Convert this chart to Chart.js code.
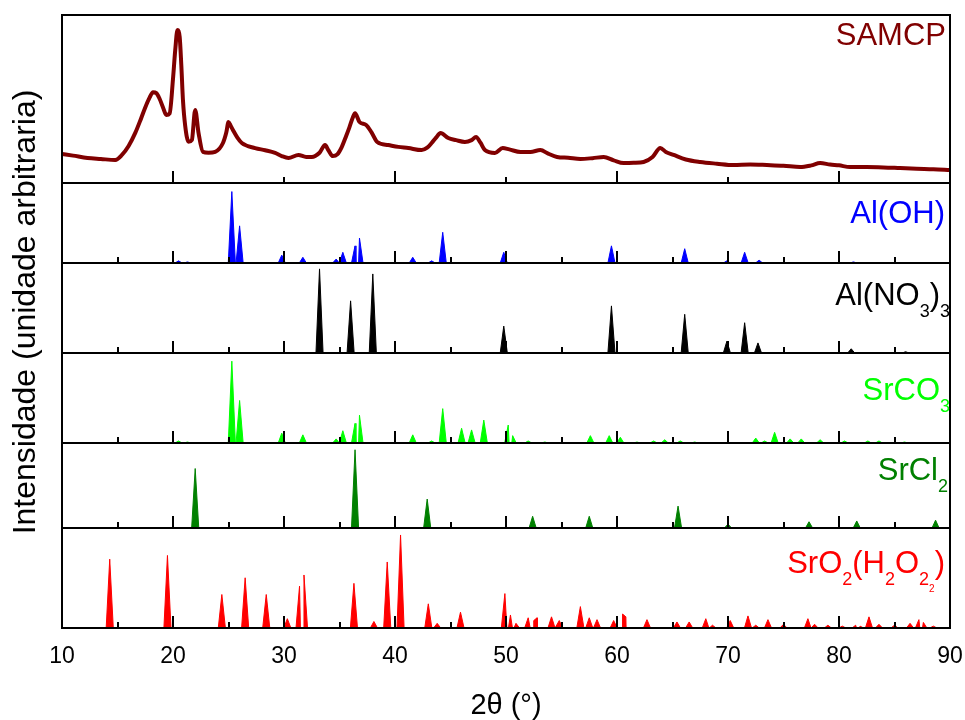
<!DOCTYPE html>
<html lang="pt">
<head>
    <meta charset="UTF-8">
    <title>DRX - SAMCP</title>
    <style>
        body {
            margin: 0;
            background-color: #ffffff;
        }
        #xrd {
            display: block;
        }
    </style>
</head>
<body>
    <canvas id="xrd" width="965" height="720"></canvas>

    <script src="https://cdn.jsdelivr.net/npm/chart.js"></script>
    <script>
        // SAMCP measured pattern (2theta, intensity a.u.)
        var samcpTheta = [10.0, 11.0, 12.3, 13.5, 14.8, 15.4, 16.0, 16.6, 17.1, 17.5, 17.9, 18.2, 18.5, 18.8, 19.1, 19.4, 19.7, 20.0, 20.2, 20.4, 20.6, 20.75, 20.9, 21.1, 21.4, 21.7, 22.0, 22.3, 22.7, 23.2, 23.8, 24.5, 24.8, 25.0, 25.2, 25.4, 25.8, 26.2, 27.4, 28.3, 29.2, 29.8, 30.4, 31.3, 32.0, 32.5, 33.2, 33.7, 34.0, 34.4, 34.8, 35.2, 35.6, 35.9, 36.2, 36.4, 36.8, 37.4, 37.9, 38.4, 39.4, 40.3, 41.2, 42.4, 42.9, 43.3, 43.7, 44.1, 44.8, 45.5, 46.3, 46.9, 47.3, 47.7, 48.1, 49.0, 49.7, 50.3, 51.3, 52.2, 53.1, 53.8, 54.6, 55.6, 56.7, 57.8, 58.8, 59.7, 60.6, 61.5, 62.4, 63.2, 63.9, 64.4, 65.1, 66.2, 67.5, 69.0, 70.5, 72.0, 73.5, 75.0, 76.5, 77.5, 78.3, 79.2, 80.0, 81.0, 82.5, 84.0, 85.5, 87.0, 88.5, 90.0];
        var samcpInt = [17.3, 16.3, 14.9, 14.3, 13.7, 16.7, 22, 29.8, 38, 45, 51, 54, 53.5, 50, 45, 40.5, 41.5, 62, 79, 91, 87, 70, 49, 34, 24.5, 25.6, 43.5, 29.8, 18.5, 18, 18.5, 23.8, 30, 36.3, 34, 31.5, 27, 23.8, 20.8, 19.5, 17.9, 16, 14.9, 16.7, 15.5, 15.5, 18, 22.6, 19.5, 16, 17, 21.4, 28, 33.3, 39, 41.5, 36.3, 34.5, 30, 24.4, 22.6, 21.5, 20.8, 19.6, 21, 23.8, 27, 29.8, 26.8, 25.5, 24.4, 25.5, 27.4, 24, 19.6, 17.9, 20.8, 20, 18.5, 18.5, 19.6, 17.5, 15.5, 15, 14.3, 14.8, 15.5, 13.5, 11.9, 12, 12.5, 15.5, 20.8, 18.5, 16.7, 14, 12.5, 11.5, 10.7, 11, 10.7, 10.3, 9.5, 10.5, 11.9, 11, 10.5, 9.5, 9.5, 9.3, 8.9, 8.5, 8.2, 7.7];

        // reference patterns: peak positions (2theta) and relative intensities
        var alohPos = [20.5, 21.3, 25.3, 26.0, 29.8, 31.7, 34.7, 35.3, 36.4, 36.8, 41.6, 43.3, 44.3, 49.8, 59.5, 66.1, 69.9, 71.5, 72.8, 81.3];
        var alohInt = [3, 1.5, 100, 52, 11, 8, 5.5, 15, 24, 35, 8, 3, 43, 15, 24, 20, 3, 15, 4, 1.5];

        var alno3Pos = [33.2, 36.0, 38.0, 49.8, 59.5, 66.1, 69.9, 71.5, 72.7, 81.1, 86.0];
        var alno3Int = [100, 62, 94, 32, 56, 46, 14, 36, 12, 5, 1.5];

        var srco3Pos = [20.5, 21.3, 25.3, 26.0, 29.8, 31.7, 34.7, 35.3, 36.4, 36.8, 41.6, 43.3, 44.3, 46.0, 46.9, 48.0, 50.2, 50.6, 52.0, 53.5, 57.6, 59.3, 60.3, 61.8, 63.3, 64.3, 65.7, 67.0, 72.5, 73.3, 74.2, 75.6, 76.6, 78.3, 80.5, 82.6, 83.6, 85.9];
        var srco3Int = [2.5, 1.2, 100, 52, 12, 10, 5, 15, 24, 34, 10, 2.5, 42, 18, 16, 28, 22, 9, 2.5, 1.2, 9, 9, 7, 1.2, 2.5, 4, 2.5, 1.2, 6, 2.5, 13, 5, 5, 4, 2.5, 2.5, 2.5, 1.2];

        var srcl2Pos = [22.0, 36.4, 42.9, 52.4, 57.5, 65.5, 70.0, 77.3, 81.6, 88.7];
        var srcl2Int = [76, 100, 37, 15, 15, 28, 5, 8, 9, 10];

        var sro2Pos = [14.3, 19.5, 24.4, 26.5, 28.4, 30.3, 31.4, 31.8, 36.3, 38.1, 39.3, 40.5, 43.0, 43.8, 45.9, 49.9, 50.4, 50.9, 52.0, 52.5, 52.8, 54.1, 54.8, 56.7, 57.5, 58.2, 59.7, 60.5, 60.8, 62.7, 65.4, 66.5, 68.0, 68.6, 70.2, 71.8, 72.5, 73.6, 75.0, 77.2, 77.8, 79.0, 80.3, 81.5, 81.9, 82.7, 83.6, 85.0, 86.4, 87.2, 87.6, 88.5];
        var sro2Int = [74, 78, 36, 54, 36, 10, 45, 57, 48, 7, 71, 100, 26, 5, 17, 37, 14, 5, 11, 8, 11, 12, 8, 23, 11, 9, 8, 15, 12, 9, 6.5, 6.5, 10, 3, 8, 13, 3, 9, 4, 10, 4, 3, 2, 3, 2, 12, 4, 3, 5, 9, 6, 2];

        var xTicks = [10, 20, 30, 40, 50, 60, 70, 80, 90];

        var HALF = 0.32; // half base width of a reference peak, degrees

        function peaks(pos, ints) {
            var pts = [];
            pos.forEach(function (p, i) {
                pts.push({x: p - HALF, y: 0}, {x: p, y: ints[i]}, {x: p + HALF, y: 0});
            });
            pts.sort(function (a, b) { return a.x - b.x; });
            return [{x: 10, y: 0}].concat(pts, [{x: 90, y: 0}]);
        }

        // panels from top to bottom
        var panels = [
            {id: 'y1', h: 168, max: 100, color: '#800000', tick: 10, major: 20,
             label: [['SAMCP', 0]], top: 30, pad: 4},
            {id: 'y2', h: 80, max: 112, color: '#0000ff', tick: 5, major: 10,
             label: [['Al(OH)', 0]], top: 40, pad: 5},
            {id: 'y3', h: 90, max: 107, color: '#000000', tick: 5, major: 10,
             label: [['Al(NO', 0], ['3', 1], [')', 0], ['3', 1]], top: 42, pad: 0},
            {id: 'y4', h: 90, max: 110, color: '#00ff00', tick: 5, major: 10,
             label: [['SrCO', 0], ['3', 1]], top: 47, pad: 0},
            {id: 'y5', h: 85, max: 108.6, color: '#008000', tick: 5, major: 10,
             label: [['SrCl', 0], ['2', 1]], top: 37, pad: 2},
            {id: 'y6', h: 100, max: 107.5, color: '#ff0000', tick: 5, major: 10,
             label: [['SrO', 0], ['2', 1], ['(H', 0], ['2', 1], ['O', 0], ['2', 1], ['2', 2], [')', 0]], top: 45, pad: 5}
        ];

        var FONT = '"Liberation Sans", Arial, sans-serif';
        var levels = [{size: 31, dy: 0}, {size: 18, dy: 12}, {size: 10, dy: 19}];

        var frame = {
            id: 'frame',
            afterDraw: function (chart) {
                var ctx = chart.ctx, a = chart.chartArea, xs = chart.scales.x;
                ctx.save();
                panels.forEach(function (p) {
                    var s = chart.scales[p.id];
                    ctx.strokeStyle = '#000';
                    ctx.lineWidth = 2;
                    ctx.strokeRect(a.left, s.top, a.right - a.left, s.bottom - s.top);
                    ctx.beginPath();
                    for (var v = 10 + p.tick; v < 90; v += p.tick) {
                        var px = Math.round(xs.getPixelForValue(v));
                        var len = v % p.major === 0 ? 12 : 6;
                        ctx.moveTo(px, s.bottom);
                        ctx.lineTo(px, s.bottom - len);
                    }
                    ctx.stroke();

                    // panel label with subscripts
                    ctx.fillStyle = p.color;
                    ctx.textBaseline = 'alphabetic';
                    ctx.textAlign = 'left';
                    var w = 0;
                    p.label.forEach(function (seg) {
                        ctx.font = levels[seg[1]].size + 'px ' + FONT;
                        w += ctx.measureText(seg[0]).width;
                    });
                    var x = a.right - p.pad - w, y = s.top + p.top;
                    p.label.forEach(function (seg) {
                        var L = levels[seg[1]];
                        ctx.font = L.size + 'px ' + FONT;
                        ctx.fillText(seg[0], x, y + L.dy);
                        x += ctx.measureText(seg[0]).width;
                    });
                });

                // shared y title
                ctx.fillStyle = '#000';
                ctx.font = '32px ' + FONT;
                ctx.textAlign = 'center';
                ctx.translate(35, 312);
                ctx.rotate(-Math.PI / 2);
                ctx.fillText('Intensidade (unidade arbitraria)', 0, 0);
                ctx.restore();
            }
        };

        var datasets = [
            {
                data: samcpTheta.map(function (t, i) { return {x: t, y: samcpInt[i]}; }),
                yAxisID: 'y1', borderColor: '#800000', borderWidth: 4,
                pointRadius: 0, cubicInterpolationMode: 'monotone', fill: false
            }
        ];
        [[alohPos, alohInt], [alno3Pos, alno3Int], [srco3Pos, srco3Int], [srcl2Pos, srcl2Int], [sro2Pos, sro2Int]].forEach(function (set, i) {
            var p = panels[i + 1];
            datasets.push({
                data: peaks(set[0], set[1]), yAxisID: p.id,
                borderColor: p.color, backgroundColor: p.color, borderWidth: 1,
                pointRadius: 0, tension: 0, fill: 'origin'
            });
        });

        var scales = {
            x: {
                type: 'linear', min: 10, max: 90,
                afterBuildTicks: function (axis) { axis.ticks = xTicks.map(function (v) { return {value: v}; }); },
                afterFit: function (axis) {
                    axis.height = 92;
                    axis.paddingLeft = 0;
                    axis.paddingRight = 0;
                },
                grid: {display: false, drawTicks: false},
                border: {display: false},
                ticks: {color: '#000', font: {size: 23, family: FONT}, padding: 15},
                title: {display: true, text: '2\u03b8 (\u00b0)', color: '#000', font: {size: 29, family: FONT, lineHeight: 1}, padding: {top: 0, bottom: 0}}
            }
        };
        // left stacks are placed last-defined on top, so add bottom panel first
        panels.slice().reverse().forEach(function (p) {
            scales[p.id] = {
                type: 'linear', min: 0, max: p.max, display: false,
                position: 'left', stack: 'xrd', stackWeight: p.h, offset: false
            };
        });

        new Chart(document.getElementById('xrd'), {
            type: 'line',
            data: {datasets: datasets},
            options: {
                responsive: false,
                animation: false,
                devicePixelRatio: 1,
                layout: {padding: {left: 62, right: 15, top: 15, bottom: 0}},
                plugins: {legend: {display: false}, tooltip: {enabled: false}},
                scales: scales
            },
            plugins: [frame]
        });
    </script>
</body>
</html>
